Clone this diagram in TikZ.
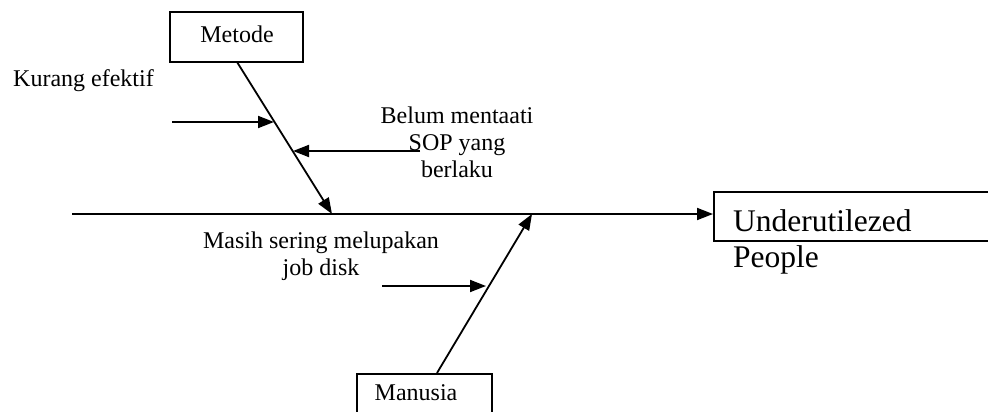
\documentclass[tikz,border=0pt]{standalone}
\usepackage{fontspec}
\setmainfont{Liberation Serif}
\usetikzlibrary{arrows.meta}
\begin{document}
\begin{tikzpicture}[x=1pt,y=-1pt,
  boxstyle/.style={draw, line width=1.5pt, inner sep=0pt},
  txt/.style={font=\fontsize{24}{27}\selectfont, inner sep=0pt, align=center},
  bigtxt/.style={font=\fontsize{31.5}{36}\selectfont, inner sep=0pt, align=left},
  arr/.style={line width=1.8pt, -{Triangle[length=16pt,width=12pt]}}]
\useasboundingbox[fill=white] (0,0) rectangle (988,412);
% boxes
\node[boxstyle, minimum width=133pt, minimum height=50pt] (metode) at (236.5,37) {};
\node[txt, anchor=base] (metodeT) at (237,43) {Metode};
\node[boxstyle, minimum width=135pt, minimum height=60pt, anchor=north] (manusia) at (424.5,373) {};
\node[txt, anchor=base] (manusiaT) at (416,400) {Manusia};
\node[boxstyle, minimum width=320pt, minimum height=49pt, anchor=west] (effect) at (713,216.5) {};
\node[bigtxt, anchor=base west] (effectT) at (733,267) {Underutilezed\\People};
% labels
\node[txt, anchor=base west] (kurang) at (13,87) {Kurang efektif};
\node[txt, anchor=base] (belum) at (457,177) {Belum mentaati\\SOP yang\\berlaku};
\node[txt, anchor=base] (masih) at (321,275) {Masih sering melupakan\\job disk};
% coordinates
\coordinate (spineL) at (72,214);
\coordinate (mTop) at (237,62);
\coordinate (mEnd) at (332,214);
\coordinate (hTop) at (437,373);
\coordinate (hEnd) at (532,214);
\coordinate (k1) at (172,122);
\coordinate (k2) at (274,122);
\coordinate (b1) at (420,151);
\coordinate (b2) at (293,151);
\coordinate (s1) at (382,286);
\coordinate (s2) at (486,286);
% connectors
\draw[arr] (spineL) -- (spineL -| effect.west);
\draw[arr] (mTop) -- (mEnd);
\draw[arr] (hTop) -- (hEnd);
\draw[arr] (k1) -- (k2);
\draw[arr] (b1) -- (b2);
\draw[arr] (s1) -- (s2);
\end{tikzpicture}
\end{document}
